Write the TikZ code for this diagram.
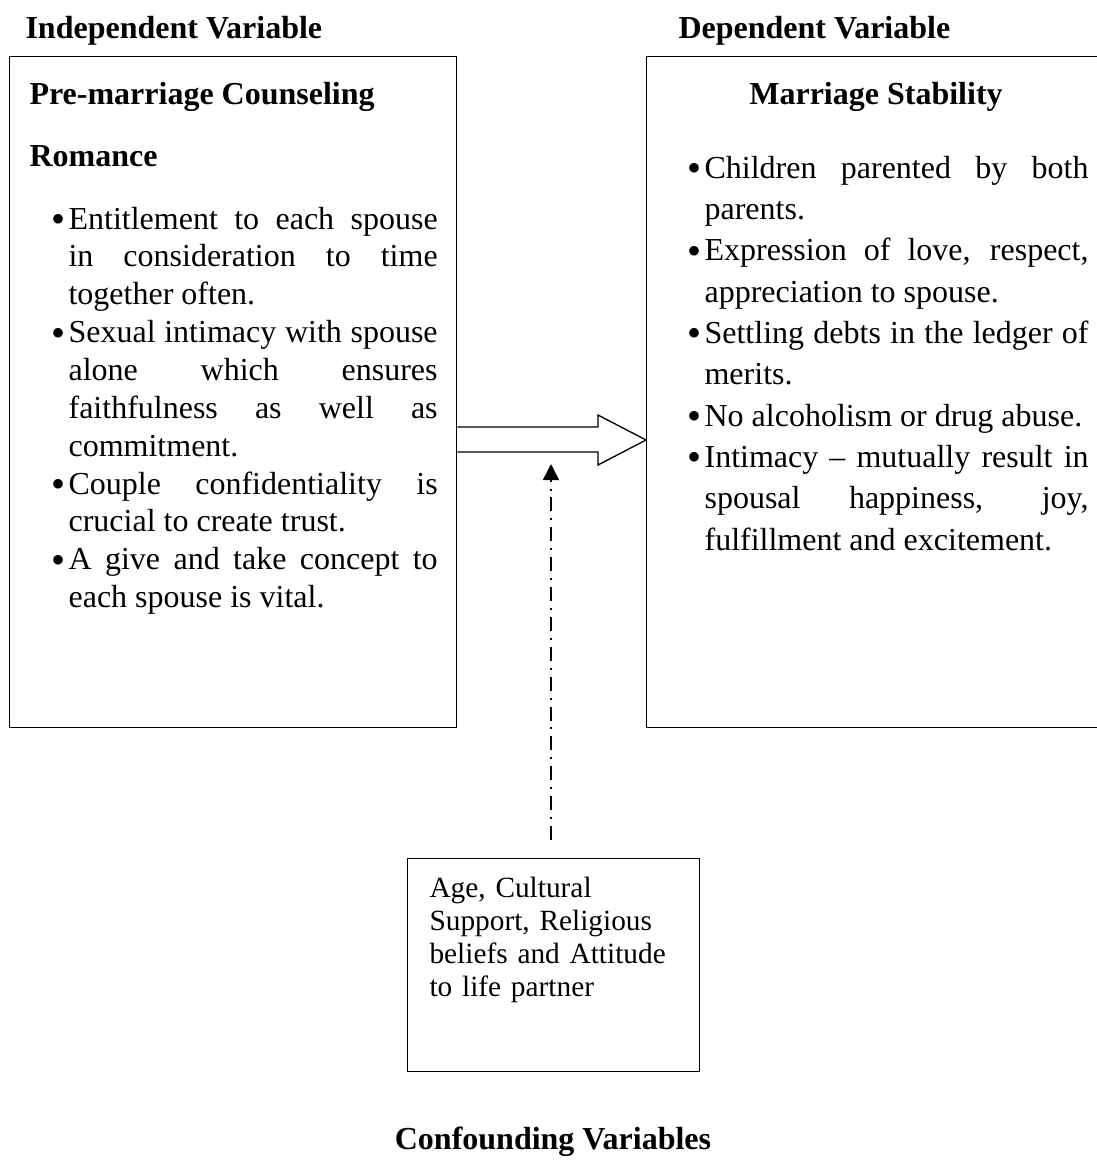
\documentclass[tikz,border=0pt]{standalone}
\usepackage{fontspec}
\setmainfont{Liberation Serif}[Ligatures=NoCommon]
\usetikzlibrary{arrows.meta}
\hbadness=10000
\newlength{\bhang}
\setlength{\bhang}{6.4pt}
\newcommand{\bitem}[1]{\noindent\hangindent=\bhang\hangafter=1\makebox[\bhang][l]{\raisebox{-1.3pt}{\fontsize{15}{15}\selectfont\textbullet}}#1\par}

\begin{document}
\begin{tikzpicture}[x=0.375pt,y=-0.375pt,
  panel/.style={draw,line width=0.5pt,inner sep=0pt,anchor=north west},
  heading/.style={font=\fontsize{12}{14}\selectfont\bfseries,inner sep=0pt,anchor=base west},
  itemlist/.style={inner sep=0pt,anchor=base west,align=justify},
  blockarrow/.style={draw,line width=0.5pt,fill=white,line join=miter},
  confline/.style={line width=0.6pt,dash pattern=on 5.25pt off 2.6pt on 0.75pt off 2.6pt,-{Triangle[length=6pt,width=6pt]}}]
\useasboundingbox (0,0) rectangle (1097,1163);

% titles
\node[heading] (ivtitle) at (25,38) {Independent Variable};
\node[heading] (dvtitle) at (678,38) {Dependent Variable};
\node[heading,anchor=base] (cftitle) at (553,1149) {Confounding Variables};

% boxes
\node[panel,minimum width=167.6pt,minimum height=251.6pt] (ivbox) at (9,56) {};
\node[panel,minimum width=187.5pt,minimum height=251.6pt] (dvbox) at (646,56) {};
\node[panel,minimum width=109.5pt,minimum height=79.9pt] (cfbox) at (407,858) {};

% independent variable
\node[heading] (pmc) at (29,104) {Pre-marriage Counseling};
\node[heading] (rom) at (29,166) {Romance};
\node[itemlist,text width=144.8pt,font=\fontsize{12}{14.2}\selectfont] (ivlist) at (51,229) {%
\bitem{Entitlement to each spouse\linebreak in consideration to time\linebreak together often.}
\bitem{Sexual intimacy with spouse\linebreak alone which ensures\linebreak faithfulness as well as\linebreak commitment.}
\bitem{Couple confidentiality is\linebreak crucial to create trust.}
\bitem{A give and take concept to\linebreak each spouse is vital.}};

% dependent variable
\node[heading,anchor=base] (ms) at (876,104) {Marriage Stability};
\node[itemlist,text width=150.4pt,font=\fontsize{12}{15.5}\selectfont] (dvlist) at (687,178) {%
\bitem{Children parented by both\linebreak parents.}
\bitem{Expression of love, respect,\linebreak appreciation to spouse.}
\bitem{Settling debts in the ledger of\linebreak merits.}
\bitem{No alcoholism or drug abuse.}
\bitem{Intimacy – mutually result in\linebreak spousal happiness, joy,\linebreak fulfillment and excitement.}};

% confounding variables
\node[inner sep=0pt,anchor=base west,text width=100pt,align=left,font=\fontsize{11}{12.4}\selectfont] (cflist) at (429,897)
  {Age, Cultural\\Support, Religious\\beliefs and Attitude\\to life partner};

% connectors
\draw[blockarrow] (ivbox.east |- 0,427) -- (598,427) -- (598,415) -- (dvbox.west |- 0,440)
  -- (598,465) -- (598,452) -- (ivbox.east |- 0,452);
\coordinate (tip) at (551,464);
\draw[confline] (cfbox.north -| tip) ++(0,-18) -- (tip);
\end{tikzpicture}
\end{document}
